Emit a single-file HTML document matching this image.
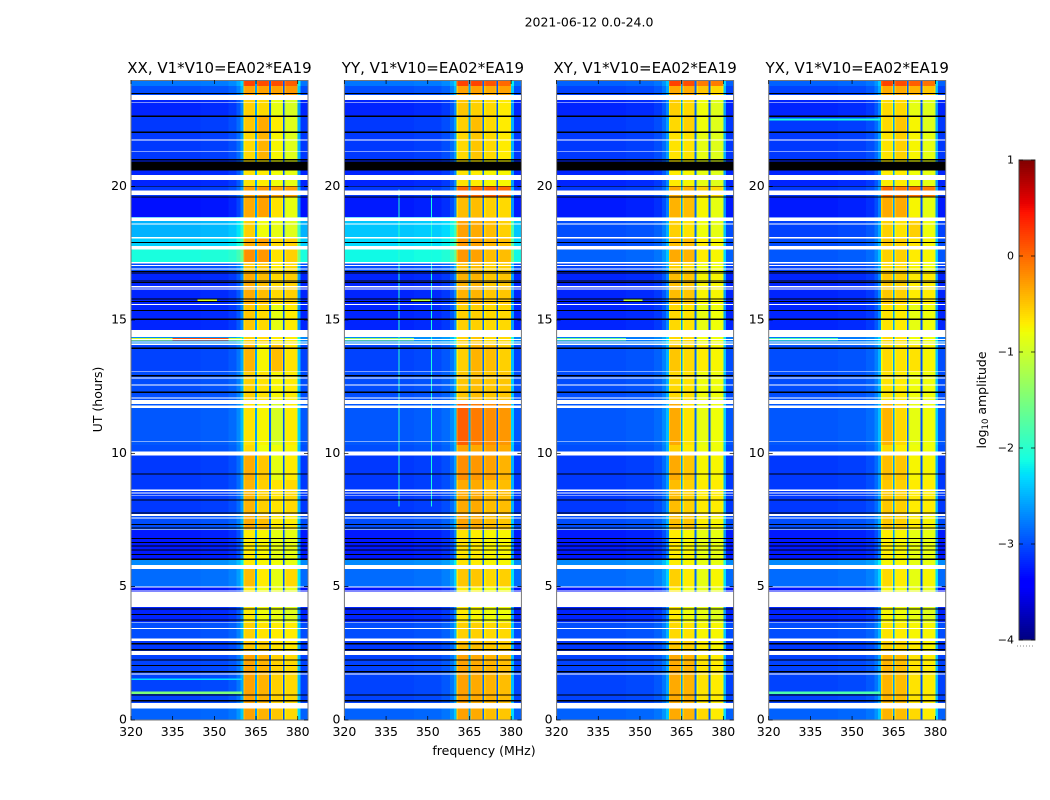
<!DOCTYPE html>
<html>
<head>
<meta charset="utf-8">
<title>2021-06-12 amplitude waterfall</title>
<style>
html,body{margin:0;padding:0;background:#fff;}
svg{display:block;}
text{font-family:"DejaVu Sans","Liberation Sans",sans-serif;fill:#000;}
</style>
</head>
<body>
<svg id="fig" xmlns="http://www.w3.org/2000/svg" width="1050" height="800" viewBox="0 0 1050 800">
  <rect x="0" y="0" width="1050" height="800" fill="#fff"/>
  <text x="589" y="26.5" font-size="12.5" text-anchor="middle">2021-06-12 0.0-24.0</text>
  <text x="0" y="0" font-size="12.5" text-anchor="middle" transform="translate(102,399.5) rotate(-90)">UT (hours)</text>
  <text x="484" y="755" font-size="12.5" text-anchor="middle">frequency (MHz)</text>
  <g id="panels"></g>
  <g id="colorbar"></g>
  <text x="0" y="0" font-size="12.5" text-anchor="middle" transform="translate(986,400) rotate(-90)">log<tspan font-size="8.5" dy="2">10</tspan><tspan dy="-2"> amplitude</tspan></text>
</svg>
<script>
// ---- Data ----
const panelTitles = ['XX, V1*V10=EA02*EA19','YY, V1*V10=EA02*EA19','XY, V1*V10=EA02*EA19','YX, V1*V10=EA02*EA19'];
const xTicks = [320,335,350,365,380];
const yTicks = [0,5,10,15,20];
const colorbarTicks = [1,0,-1,-2,-3,-4];

// Time bands: UT boundaries, top to bottom
const bandEdgesUT = [24,23.78,23.25,22.65,22.05,21.0,20.03,19.61,18.86,18.11,17.74,17.14,16.80,15.6,14.63,14.06,13.05,12.0,10.31,9.94,9.0,7.73,7.13,6.0,5.66,4.99,4.23,3.68,3.0,2.44,0.63,0];

// log10 amplitude below 360 MHz, one value per time band
const lowXX = [-2.8,-3.0,-3.2,-3.1,-3.1,-3.2,-3.1,-3.3,-2.5,-2.35,-2.1,-3.0,-3.2,-3.2,-2.7,-3.05,-3.0,-2.95,-3.0,-3.1,-3.1,-3.0,-3.25,-2.7,-2.85,-3.3,-3.2,-3.0,-3.1,-3.05,-2.9];
const lowYY = [-2.8,-3.0,-3.2,-3.1,-3.1,-3.2,-3.1,-3.25,-2.4,-2.3,-2.15,-3.0,-3.2,-3.2,-2.7,-3.05,-3.0,-2.95,-3.0,-3.1,-3.1,-3.0,-3.25,-2.7,-2.85,-3.3,-3.2,-3.0,-3.1,-3.05,-2.9];
const lowXY = [-2.9,-3.05,-3.2,-3.1,-3.1,-3.2,-3.1,-3.25,-3.0,-3.0,-2.9,-3.05,-3.2,-3.2,-2.8,-3.0,-3.0,-2.95,-3.0,-3.1,-3.1,-3.0,-3.25,-2.7,-2.85,-3.3,-3.2,-3.0,-3.1,-3.05,-2.9];
const lowYX = [-2.9,-3.05,-3.2,-3.1,-3.1,-3.2,-3.1,-3.25,-3.05,-3.0,-2.95,-3.05,-3.2,-3.2,-2.8,-3.0,-3.0,-2.95,-3.0,-3.1,-3.1,-3.0,-3.25,-2.7,-2.85,-3.3,-3.2,-3.0,-3.1,-3.05,-2.9];

// log10 amplitude of the four sub-bands above 360 MHz, one row per time band
const hiXX = [[.2,.15,.15,.05],[-.3,-.3,-.3,-.25],[-.55,-.6,-.85,-.95],[-.5,-.35,-.7,-.9],[-.6,-.4,-.75,-.9],[-.65,-.7,-.8,-.85],[-.3,-.25,-.3,-.3],[-.35,-.3,-.65,-.85],[-.55,-.8,-.85,-.9],[-.35,-.3,-.6,-.55],[-.2,-.25,-.65,-.55],[-.5,-.5,-.7,-.6],[-.35,-.45,-.6,-.55],[-.5,-.6,-.85,-.7],[-.55,-.6,-.7,-.7],[-.4,-.75,-.45,-.65],[-.55,-.65,-.75,-.7],[-.65,-.75,-.95,-.7],[-.6,-.8,-.8,-.75],[-.35,-.5,-.85,-.7],[-.4,-.55,-.65,-.6],[-.35,-.45,-.7,-.7],[-.7,-.75,-.85,-.85],[-.7,-.75,-.8,-.85],[-.45,-.7,-.85,-.6],[-.7,-.8,-.85,-.85],[-.7,-.8,-.85,-.9],[-.55,-.65,-.7,-.7],[-.5,-.55,-.65,-.7],[-.3,-.4,-.55,-.6],[-.3,-.4,-.5,-.6]];
const hiYY = [[.2,.2,.1,0],[-.3,-.3,-.35,-.3],[-.5,-.55,-.6,-.7],[-.55,-.45,-.6,-.7],[-.6,-.5,-.6,-.7],[-.65,-.7,-.75,-.75],[.0,.0,.05,.0],[-.45,-.45,-.55,-.6],[-.3,-.35,-.45,-.55],[-.25,-.3,-.4,-.45],[-.25,-.3,-.45,-.45],[-.45,-.45,-.55,-.55],[-.4,-.4,-.5,-.5],[-.55,-.55,-.6,-.6],[-.55,-.5,-.6,-.6],[-.55,-.4,-.45,-.55],[-.5,-.45,-.5,-.5],[.05,-.1,-.2,-.25],[-.3,-.35,-.3,-.35],[-.2,-.25,-.3,-.4],[-.35,-.35,-.45,-.45],[-.3,-.35,-.45,-.5],[-.65,-.7,-.75,-.75],[-.65,-.7,-.75,-.75],[-.5,-.5,-.6,-.55],[-.7,-.75,-.8,-.8],[-.7,-.75,-.8,-.8],[-.55,-.55,-.6,-.6],[-.45,-.45,-.5,-.55],[-.3,-.35,-.4,-.45],[-.3,-.35,-.45,-.5]];
const hiXY = [[.2,.15,-.1,-.1],[-.35,-.35,-.5,-.6],[-.55,-.6,-.8,-.9],[-.6,-.55,-.8,-.9],[-.65,-.65,-.85,-.9],[-.7,-.75,-.85,-.9],[-.35,-.4,-.55,-.6],[-.4,-.45,-.75,-.85],[-.55,-.65,-.8,-.85],[-.45,-.45,-.7,-.75],[-.35,-.4,-.7,-.75],[-.55,-.6,-.8,-.8],[-.45,-.5,-.75,-.75],[-.6,-.65,-.85,-.8],[-.6,-.6,-.8,-.8],[-.5,-.6,-.7,-.75],[-.6,-.65,-.8,-.8],[-.35,-.65,-.85,-.8],[-.55,-.7,-.8,-.8],[-.35,-.5,-.75,-.75],[-.45,-.55,-.7,-.7],[-.45,-.5,-.7,-.75],[-.7,-.75,-.85,-.85],[-.7,-.75,-.85,-.85],[-.55,-.7,-.85,-.75],[-.7,-.8,-.85,-.85],[-.7,-.8,-.85,-.9],[-.6,-.65,-.75,-.75],[-.5,-.55,-.7,-.75],[-.35,-.4,-.65,-.7],[-.35,-.4,-.6,-.7]];
const hiYX = [[.2,.15,.05,-.05],[-.35,-.35,-.4,-.5],[-.6,-.6,-.85,-.9],[-.6,-.5,-.75,-.9],[-.65,-.55,-.75,-.85],[-.7,-.7,-.8,-.85],[.0,-.1,-.05,-.1],[-.35,-.35,-.75,-.85],[-.55,-.65,-.55,-.8],[-.5,-.55,-.65,-.75],[-.55,-.55,-.7,-.75],[-.6,-.6,-.75,-.8],[-.5,-.55,-.7,-.7],[-.65,-.7,-.85,-.8],[-.6,-.65,-.8,-.8],[-.6,-.65,-.65,-.75],[-.65,-.7,-.8,-.8],[-.4,-.6,-.85,-.8],[-.6,-.7,-.8,-.8],[-.45,-.5,-.75,-.75],[-.5,-.55,-.7,-.7],[-.5,-.55,-.7,-.75],[-.7,-.75,-.85,-.85],[-.75,-.75,-.85,-.85],[-.6,-.7,-.85,-.75],[-.75,-.8,-.85,-.85],[-.75,-.8,-.85,-.9],[-.65,-.7,-.75,-.75],[-.55,-.6,-.7,-.75],[-.4,-.45,-.65,-.7],[-.4,-.45,-.6,-.7]];

// Spectral shape below the first sub-band (offset added to the band's low level)
const lowBinStart = [320,345,355,358,359.4];
const lowBinEnd = [345,355,358,359.4,360.4];
const lowBinOffset = [0,.03,.1,.25,.5];
// Sub-bands above 360 MHz, plus the shaped roll-off at their edges
const subbandStart = [360.4,365.3,370.3,375.3];
const subbandEnd = [364.7,369.7,374.7,380];
const notchStart = [364.7,369.7,374.7];
const notchEnd = [365.3,370.3,375.3];
const notchLevel = [-2.6,-2.9,-3.0];
const subbandEdgeDrop = [-.2,-.15,-.15,-.15];
const shoulderOffset = [.6,0];
const shoulderStart = [380,381];
const shoulderEnd = [381,383.7];

// Flagged (white) and zero (black) time ranges, UT hi / lo
const whiteHi = [23.44,23.18,21.77,21.34,20.44,19.85,18.85,18.61,18.11,17.78,17.18,17.06,16.94,16.28,16.19,15.60,14.63,14.28,14.20,14.11,13.09,12.85,12.59,12.09,12.00,11.79,10.45,10.06,8.65,8.54,8.44,7.73,7.59,7.15,5.81,5.00,4.88,4.81,3.68,3.45,3.06,2.59,1.75,0.63];
const whiteLo = [23.25,23.15,21.73,21.31,20.25,19.69,18.71,18.59,18.06,17.65,17.11,17.03,16.90,16.22,16.15,15.56,14.37,14.25,14.16,14.07,13.06,12.81,12.54,12.05,11.85,11.70,10.43,9.91,8.59,8.50,8.41,7.65,7.56,7.13,5.66,4.96,4.85,4.23,3.65,3.41,2.97,2.44,1.71,0.44];
const blackHi = [23.52,22.66,22.06,21.03,20.94,20.03,19.63,17.93,17.16,16.83,16.75,16.49,16.42,15.81,15.72,15.37,15.06,13.96,12.93,12.31,9.24,8.27,7.78,7.35,7.22,6.83,6.68,6.55,6.40,6.23,6.06,4.18,3.97,3.77,3.03,2.88,2.66,2.27,2.06,1.83,0.96,0.75];
const blackLo = [23.48,22.62,22.02,20.99,20.60,20.00,19.59,17.89,17.12,16.79,16.72,16.45,16.38,15.77,15.68,15.33,15.00,13.92,12.89,12.27,9.20,8.23,7.74,7.31,7.18,6.79,6.64,6.51,6.36,6.19,6.00,4.14,3.93,3.73,2.99,2.84,2.61,2.23,2.02,1.79,0.92,0.69];

// Narrow interference: panel index, frequency range, UT range, level
const rfiPanel = [0,0,0,1,1,2,3,2,0,3,0,0,1,1,3];
const rfiFreqLo = [320,335,344,320,344,320,320,344,320,320,320,320,339.4,351.2,320];
const rfiFreqHi = [360,355,351,345,351,345,345,351,360,360,360,360,339.8,351.6,360];
const rfiUTHi = [14.32,14.32,15.79,14.32,15.79,14.32,14.32,15.79,1.06,1.06,1.56,1.84,19.9,19.9,22.55];
const rfiUTLo = [14.24,14.24,15.72,14.24,15.72,14.24,14.24,15.72,0.98,0.98,1.50,1.78,8.0,8.0,22.49];
const rfiLevel = [-1.0,.15,-.9,-1.3,-1.1,-1.6,-1.8,-1.1,-1.5,-1.8,-2.3,-2.3,-2.0,-2.1,-2.1];

const lowByPanel = [lowXX,lowYY,lowXY,lowYX];
const hiByPanel = [hiXX,hiYY,hiXY,hiYX];

// ---- Axes and colour scale ----
const SVG_NS = 'http://www.w3.org/2000/svg';
const panelLeft = [131,344.4,556.6,768.7];
const panelWidth = 177;
const plotTop = 80;
const plotBottom = 720;
const freqMin = 320;
const freqMax = 383.7;
const utMax = 24;
function xScale(p, f){ return panelLeft[p] + (f - freqMin) / (freqMax - freqMin) * panelWidth; }
function yScale(ut){ return plotBottom - ut / utMax * (plotBottom - plotTop); }
function clamp(v){ return Math.max(0, Math.min(1, v)); }
function jet(t){
  const r = t < .35 ? 0 : t < .66 ? (t - .35) / .31 : t < .89 ? 1 : 1 - (t - .89) / .11 * .5;
  const g = t < .125 ? 0 : t < .375 ? (t - .125) / .25 : t < .64 ? 1 : t < .91 ? 1 - (t - .64) / .27 : 0;
  const b = t < .11 ? .5 + t / .11 * .5 : t < .34 ? 1 : t < .65 ? 1 - (t - .34) / .31 : 0;
  return 'rgb(' + Math.round(clamp(r) * 255) + ',' + Math.round(clamp(g) * 255) + ',' + Math.round(clamp(b) * 255) + ')';
}
function colourOf(level){ return jet(clamp((level + 4) / 5)); }
function node(tag, parent, attrs){
  const el = document.createElementNS(SVG_NS, tag);
  for (const k in attrs) el.setAttribute(k, attrs[k]);
  parent.appendChild(el);
  return el;
}
function cell(parent, p, f0, f1, ut0, ut1, fill){
  const x0 = xScale(p, f0), x1 = xScale(p, f1), y0 = yScale(ut0), y1 = yScale(ut1);
  return node('rect', parent, {x:x0, y:y0, width:x1 - x0, height:Math.max(y1 - y0, .8), fill:fill, 'shape-rendering':'crispEdges'});
}

const panelsRoot = document.getElementById('panels');
for (let p = 0; p < panelTitles.length; p++){
  const g = node('g', panelsRoot, {});
  
  
  const left = panelLeft[p], right = left + panelWidth;

  for (let b = 0; b < bandEdgesUT.length - 1; b++){
    const hiUT = bandEdgesUT[b], loUT = bandEdgesUT[b + 1];
    const low = lowByPanel[p][b], hi = hiByPanel[p][b];
    for (let i = 0; i < lowBinStart.length; i++){
      const r = cell(g, p, lowBinStart[i], lowBinEnd[i], hiUT, loUT, colourOf(low + lowBinOffset[i]));
      
      
    }
    for (let s = 0; s < subbandStart.length; s++){
      const edge = cell(g, p, subbandStart[s], subbandEnd[s], hiUT, loUT, colourOf(hi[s] + subbandEdgeDrop[s]));
      
      
      const core = cell(g, p, subbandStart[s] + .5, subbandEnd[s] - .3, hiUT, loUT, colourOf(hi[s]));
      
      
    }
    for (let n = 0; n < notchStart.length; n++){
      const r = cell(g, p, notchStart[n], notchEnd[n], hiUT, loUT, colourOf(notchLevel[n]));
      
      
    }
    for (let k = 0; k < shoulderStart.length; k++){
      const r = cell(g, p, shoulderStart[k], shoulderEnd[k], hiUT, loUT, colourOf(low + shoulderOffset[k]));
      
      
    }
  }
  for (let i = 0; i < rfiPanel.length; i++){
    if (rfiPanel[i] !== p) continue;
    const r = cell(g, p, rfiFreqLo[i], rfiFreqHi[i], rfiUTHi[i], rfiUTLo[i], colourOf(rfiLevel[i]));
    
    
  }
  for (let i = 0; i < blackHi.length; i++){
    const r = cell(g, p, freqMin, freqMax, blackHi[i], blackLo[i], '#000');
    
    
  }
  for (let i = 0; i < whiteHi.length; i++){
    const r = cell(g, p, freqMin, freqMax, whiteHi[i], whiteLo[i], '#fff');
    
    
  }

  const frame = node('rect', g, {x:left, y:plotTop + .5, width:panelWidth, height:plotBottom - plotTop - .5, fill:'none', stroke:'#777', 'stroke-width':1});
  
  

  const title = node('text', g, {x:left + panelWidth / 2, y:73, 'font-size':15, 'text-anchor':'middle'});
  title.textContent = panelTitles[p];
  
  

  for (const f of xTicks){
    const x = xScale(p, f);
    const t1 = node('line', g, {x1:x, x2:x, y1:plotBottom, y2:plotBottom - 4, stroke:'#000', 'stroke-width':.7});
    
    
    const t2 = node('line', g, {x1:x, x2:x, y1:plotTop, y2:plotTop + 4, stroke:'#000', 'stroke-width':.7});
    
    
    const lab = node('text', g, {x:x, y:736, 'font-size':12.5, 'text-anchor':'middle'});
    lab.textContent = f;
    
    
  }
  for (const u of yTicks){
    const y = yScale(u);
    const t1 = node('line', g, {x1:left, x2:left + 4, y1:y, y2:y, stroke:'#000', 'stroke-width':.7});
    
    
    const t2 = node('line', g, {x1:right, x2:right - 4, y1:y, y2:y, stroke:'#000', 'stroke-width':.7});
    
    
    const lab = node('text', g, {x:left - 4, y:y + 3.5, 'font-size':12.5, 'text-anchor':'end'});
    lab.textContent = u;
    
    
  }
}

// ---- Colour bar ----
const cb = document.getElementById('colorbar');
const cbLeft = 1019, cbRight = 1035, cbTop = 160, cbBottom = 640;
function cbY(level){ return cbBottom - (level + 4) / 5 * (cbBottom - cbTop); }
for (let y = cbTop; y < cbBottom; y += 2){
  const level = -4 + (cbBottom - y - 1) / (cbBottom - cbTop) * 5;
  const s = node('rect', cb, {x:cbLeft, y:y, width:cbRight - cbLeft, height:2, fill:colourOf(level), 'shape-rendering':'crispEdges'});
  
  
}
const cbFrame = node('rect', cb, {x:cbLeft, y:cbTop, width:cbRight - cbLeft, height:cbBottom - cbTop, fill:'none', stroke:'#444', 'stroke-width':1});


for (const v of colorbarTicks){
  const y = cbY(v);
  const t1 = node('line', cb, {x1:cbLeft, x2:cbLeft + 4, y1:y, y2:y, stroke:'#000', 'stroke-width':.7});
  
  
  const t2 = node('line', cb, {x1:cbRight, x2:cbRight - 4, y1:y, y2:y, stroke:'#000', 'stroke-width':.7});
  
  
  const lab = node('text', cb, {x:1014, y:y + 3.5, 'font-size':11, 'text-anchor':'end'});
  lab.textContent = v < 0 ? '\u2212' + Math.abs(v) : String(v);
  
  
}
const cbDots = node('line', cb, {x1:1017, x2:1035, y1:646, y2:646, stroke:'#888', 'stroke-width':1, 'stroke-dasharray':'1 2'});


</script>
</body>
</html>
